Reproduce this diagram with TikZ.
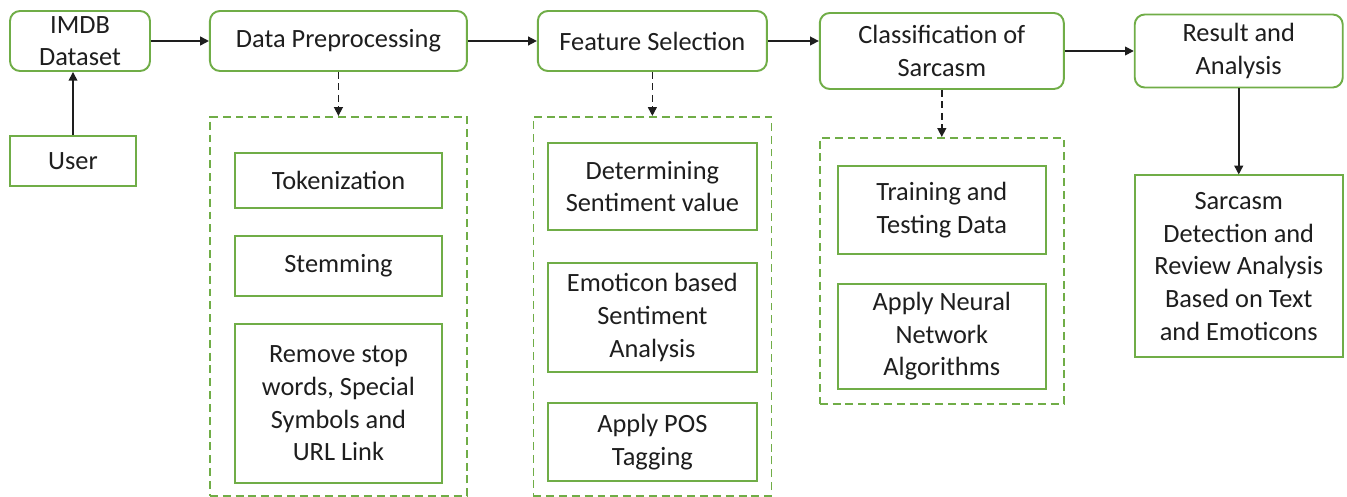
\documentclass[tikz,border=0pt]{standalone}
\usepackage{fontspec}
\setmainfont{Carlito}
\usepackage{xcolor}
\usetikzlibrary{arrows.meta, positioning}
\definecolor{leaf}{RGB}{112,173,71}
\definecolor{ink}{RGB}{30,30,30}

\begin{document}
\begin{tikzpicture}[
    node distance=1.2cm and 1.2cm,
    font=\fontsize{15}{18.6}\selectfont,
    text=ink,
    stage/.style={rectangle, rounded corners=0.2cm, draw=leaf, fill=white,
                  line width=1.1pt, align=center, minimum height=1.2cm, inner sep=2pt},
    plain/.style={rectangle, draw=leaf, fill=white, line width=1.1pt,
                  align=center, inner sep=2pt},
    group/.style={rectangle, draw=leaf, line width=0.9pt,
                  dash pattern=on 4.5pt off 2.8pt, inner sep=0pt},
    arr/.style={-{Triangle[length=5pt, width=5pt]}, line width=0.9pt, draw=ink},
    darr/.style={arr, dash pattern=on 4pt off 2.5pt}
  ]
    \useasboundingbox (0,0) rectangle (26.94,-9.94);

    % main flow
    \node[stage, minimum width=2.8cm] (imdb) at (1.6,-0.82) {IMDB\\Dataset};
    \node[stage, minimum width=5.14cm, right=1.16cm of imdb] (prep) {Data Preprocessing};
    \node[stage, minimum width=4.58cm, right=1.38cm of prep] (feat) {Feature Selection};
    \node[stage, minimum width=4.88cm, minimum height=1.52cm,
          right=1.02cm of feat.north east, anchor=north west, yshift=-0.04cm] (cls)
          {Classification of\\Sarcasm};
    \node[stage, minimum width=4.16cm, minimum height=1.46cm, right=1.38cm of cls] (res)
          {Result and\\Analysis};
    \node[plain, minimum width=2.52cm, minimum height=1cm,
          below=1.26cm of imdb.south west, anchor=north west] (user) {User};
    \node[plain, minimum width=4.16cm, minimum height=3.64cm, below=1.72cm of res] (final)
          {Sarcasm\\Detection and\\Review Analysis\\Based on Text\\and Emoticons};

    % dashed groups
    \node[group, minimum width=5.14cm, minimum height=7.58cm, below=0.88cm of prep] (prepgrp) {};
    \node[group, minimum width=4.76cm, minimum height=7.58cm, below=0.88cm of feat] (featgrp) {};
    \node[group, minimum width=4.88cm, minimum height=5.32cm, below=0.94cm of cls] (clsgrp) {};

    % preprocessing steps
    \node[plain, minimum width=4.14cm, minimum height=1.1cm,
          below=0.72cm of prepgrp.north] (token) {Tokenization};
    \node[plain, minimum width=4.14cm, minimum height=1.2cm, below=0.52cm of token] (stem) {Stemming};
    \node[plain, minimum width=4.14cm, minimum height=3.18cm, below=0.52cm of stem] (stop)
          {Remove stop\\words, Special\\Symbols and\\URL Link};

    % feature steps
    \node[plain, minimum width=4.18cm, minimum height=1.74cm,
          below=0.52cm of featgrp.north] (senti) {Determining\\Sentiment value};
    \node[plain, minimum width=4.18cm, minimum height=2.18cm, below=0.62cm of senti] (emo)
          {Emoticon based\\Sentiment\\Analysis};
    \node[plain, minimum width=4.18cm, minimum height=1.56cm, below=0.58cm of emo] (pos)
          {Apply POS\\Tagging};

    % classification steps
    \node[plain, minimum width=4.16cm, minimum height=1.76cm,
          below=0.56cm of clsgrp.north] (train) {Training and\\Testing Data};
    \node[plain, minimum width=4.16cm, minimum height=2.1cm, below=0.56cm of train] (nnet)
          {Apply Neural\\Network\\Algorithms};

    \draw[arr] (imdb) -- (prep);
    \draw[arr] (prep) -- (feat);
    \draw[arr] (feat) -- (feat -| cls.west);
    \draw[arr] (cls) -- (res);
    \draw[arr] (user) -- (user |- imdb.south);
    \draw[arr] (res) -- (final);
    \draw[darr] (prep) -- (prepgrp);
    \draw[darr] (feat) -- (featgrp);
    \draw[darr] (cls) -- (clsgrp);
  \end{tikzpicture}
\end{document}
